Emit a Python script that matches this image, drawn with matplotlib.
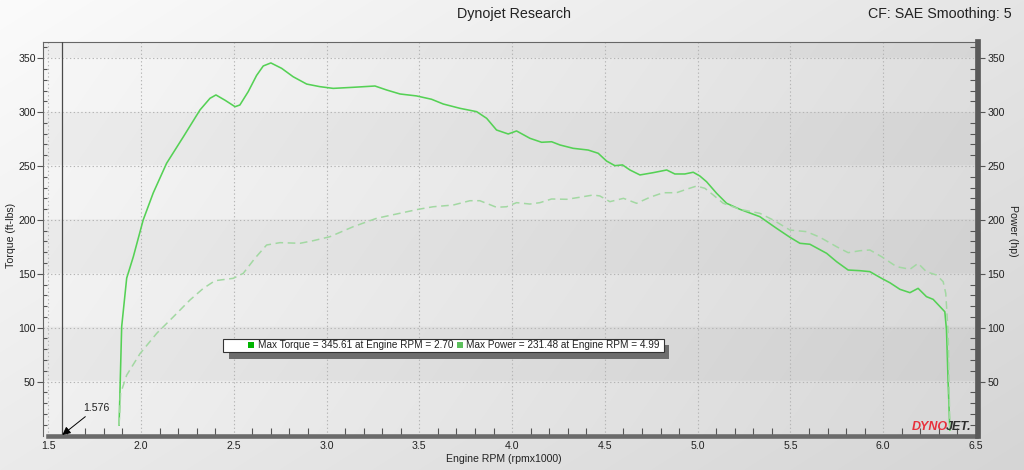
import numpy as np
import matplotlib
matplotlib.use("Agg")
import matplotlib.pyplot as plt
from matplotlib.patches import Rectangle

# ---------------- data ----------------
torque_rpm = [1.882, 1.896, 1.923, 1.959, 2.012, 2.066, 2.138, 2.228, 2.318, 2.372,
              2.404, 2.453, 2.507, 2.533, 2.578, 2.623, 2.659, 2.70, 2.758, 2.82,
              2.893, 2.964, 3.036, 3.144, 3.261, 3.324, 3.396, 3.485, 3.566, 3.629,
              3.719, 3.809, 3.863, 3.916, 3.979, 4.024, 4.096, 4.159, 4.213, 4.258,
              4.329, 4.41, 4.464, 4.509, 4.554, 4.595, 4.635, 4.689, 4.76, 4.833,
              4.877, 4.931, 4.976, 5.012, 5.048, 5.102, 5.156, 5.228, 5.335, 5.425,
              5.497, 5.551, 5.605, 5.695, 5.749, 5.811, 5.874, 5.928, 5.991, 6.036,
              6.09, 6.144, 6.188, 6.233, 6.269, 6.332, 6.341, 6.35, 6.359]
torque = [9.7, 101, 146, 166, 200, 225, 252.5, 277, 302, 312.8,
          315.9, 311, 305, 306.6, 319, 334, 342.8, 345.6, 340.6, 332.8,
          326, 323.6, 322, 323, 324.2, 320.5, 316.8, 315, 311.9, 307.5,
          303.5, 300.4, 294.2, 283.4, 279.7, 282.5, 275.7, 272, 272.5, 269.5,
          266.4, 264.8, 261.8, 254.6, 250.3, 251, 246.3, 241.7, 243.8, 246.3,
          242.6, 242.6, 244.2, 240.7, 235.4, 224.7, 215.4, 209.8, 203, 192.2,
          183.9, 178.3, 177.4, 169, 161.2, 153.5, 152.9, 152, 145.8, 141.7,
          135.6, 132.5, 136.5, 128.8, 126.3, 114.8, 97.9, 48.4, 5]

power_rpm = [1.882, 1.89, 1.923, 1.995, 2.085, 2.174, 2.264, 2.336, 2.399, 2.497,
             2.551, 2.614, 2.677, 2.749, 2.857, 2.928, 3.018, 3.144, 3.27, 3.378,
             3.494, 3.575, 3.683, 3.773, 3.826, 3.916, 3.97, 4.024, 4.096, 4.15,
             4.213, 4.294, 4.365, 4.437, 4.473, 4.527, 4.6, 4.671, 4.743, 4.814,
             4.886, 4.94, 4.994, 5.039, 5.084, 5.138, 5.228, 5.335, 5.407, 5.497,
             5.587, 5.659, 5.749, 5.811, 5.874, 5.928, 5.991, 6.072, 6.144, 6.188,
             6.233, 6.287, 6.323, 6.337, 6.35, 6.359]
power = [9.7, 39, 56, 76, 94.8, 110, 125.7, 136.5, 143.6, 145.8,
         150.4, 164.4, 176.7, 178.9, 178.3, 180.7, 184.4, 193.7, 201.5, 205.5,
         209.8, 212.2, 213.8, 217.8, 217.8, 211.7, 212.2, 216, 214.7, 216,
         219.4, 219.1, 221, 223.1, 222.2, 216.9, 220, 215.4, 221, 225.2,
         225.2, 228.4, 231.4, 229.3, 223.1, 215.4, 209.8, 206.1, 199.9, 190.6,
         189.1, 183.9, 175.1, 169.6, 171.4, 172.1, 165.9, 156.6, 154.2, 159.7,
         151.9, 148.9, 142.7, 131.9, 94.8, 5]

x_ticks = [1.5, 2.0, 2.5, 3.0, 3.5, 4.0, 4.5, 5.0, 5.5, 6.0, 6.5]
x_tick_labels = ["1.5", "2.0", "2.5", "3.0", "3.5", "4.0", "4.5", "5.0", "5.5", "6.0", "6.5"]
y_ticks = [50, 100, 150, 200, 250, 300, 350]
y_tick_labels = ["50", "100", "150", "200", "250", "300", "350"]
marker_rpm = 1.576
title = "Dynojet Research"
cf_text = "CF: SAE Smoothing: 5"
legend_torque = "Max Torque = 345.61 at Engine RPM = 2.70"
legend_power = "Max Power = 231.48 at Engine RPM = 4.99"

# ---------------- figure ----------------
W, H = 1024, 470
plt.rcParams['font.family'] = ['Liberation Sans', 'DejaVu Sans']
fig = plt.figure(figsize=(W / 100, H / 100), dpi=100)

def fx(px):
    return px / W

def fy(py):
    return 1 - py / H

# figure background gradient
gx = np.linspace(0, 1, W)[None, :]
gy = np.linspace(0, 1, H)[:, None]
bgv = (251 - 22 * gx - 16 * gy) / 255.0
bg = np.dstack([bgv, bgv, bgv])
fig.figimage(bg, 0, 0, zorder=-10, origin='upper')

XL = (1.4736, 6.5)
YL = (0, 365.3)
left, right, top, bottom = 43.3, 976.0, 41.7, 435.5
ax = fig.add_axes([fx(left), fy(bottom), (right - left) / W, (bottom - top) / H])
ax.patch.set_alpha(0)

# plot-area background: horizontal gradient + alternating bands
ny, nx = 400, 400
u = np.linspace(0, 1, nx)[None, :]
yv = np.linspace(YL[1], YL[0], ny)[:, None]
band = ((yv // 50) % 2 == 1).astype(float)
pv = (247 - 24 * u - 7 * (1 - yv / YL[1]) - 9 * band) / 255.0
pimg = np.dstack([pv, pv, pv])
ax.imshow(pimg, extent=[XL[0], XL[1], YL[0], YL[1]], aspect='auto', zorder=0,
          interpolation='bilinear')

ax.set_xlim(*XL)
ax.set_ylim(*YL)

ax.grid(True, which='major', color='#b5b5b5', linestyle=(0, (1.2, 2.2)), linewidth=0.8, zorder=1)
ax.set_axisbelow(True)

ax.plot(torque_rpm, torque, color='#55d155', lw=1.15, zorder=4, solid_joinstyle='round')

ax.axvline(marker_rpm, color='#4a4a4a', lw=0.9, zorder=3)

ax.set_xticks(x_ticks)
ax.set_xticklabels(x_tick_labels)
ax.set_xticks(np.arange(1.6, 6.45, 0.1), minor=True)
ax.set_yticks(y_ticks)
ax.set_yticklabels(y_tick_labels)
ax.set_yticks(np.arange(10, 361, 10), minor=True)

ax.tick_params(axis='x', which='major', direction='out', length=0, pad=4,
               labelsize=7.6, labelcolor='#222222')
ax.tick_params(axis='x', which='minor', direction='in', length=6, width=0.8, color='#555555')
ax.tick_params(axis='y', which='major', direction='out', length=4, width=0.8, color='#555555',
               pad=1.5, labelsize=7.6, labelcolor='#222222')
ax.tick_params(axis='y', which='minor', direction='in', length=3, width=0.8, color='#555555')

for s in ['left', 'top']:
    ax.spines[s].set_color('#666666')
    ax.spines[s].set_linewidth(0.8)
ax.spines['right'].set_visible(False)
ax.spines['bottom'].set_bounds(1.5, 6.5)
ax.spines['bottom'].set_color('#6a6a6a')
ax.spines['bottom'].set_linewidth(3.3)
ax.spines['bottom'].set_zorder(5)

# right (power) axis
ax2 = ax.twinx()
ax2.set_ylim(*YL)
ax2.set_xlim(*XL)
ax2.plot(power_rpm, power, color='#a2d8a2', lw=1.1, dashes=(5, 3), zorder=3)
for s in ['left', 'top', 'bottom']:
    ax2.spines[s].set_visible(False)
ax2.spines['right'].set_color('#5a5a5a')
ax2.spines['right'].set_linewidth(4.1)
ax2.spines['right'].set_position(('outward', 1.5))
ax2.set_yticks(y_ticks)
ax2.set_yticklabels(y_tick_labels)
ax2.set_yticks(np.arange(10, 361, 10), minor=True)
ax2.tick_params(axis='y', which='major', direction='out', length=5, width=0.8, color='#555555',
                pad=1.5, labelsize=7.6, labelcolor='#222222')
ax2.tick_params(axis='y', which='minor', direction='in', length=5.8, width=0.8, color='#555555')

# annotation of the marker
ax.annotate("1.576", xy=(marker_rpm, 0.5), xytext=(1.6875, 25.5), fontsize=7.6, color='#222222',
            ha='left', va='center', zorder=6,
            arrowprops=dict(arrowstyle='-|>', color='black', lw=0.7, mutation_scale=12,
                            shrinkA=1, shrinkB=0))

# texts
fig.text(fx(514), fy(14), title, ha='center', va='center', fontsize=10.3, color='#222222')
fig.text(fx(1012), fy(14), cf_text, ha='right', va='center', fontsize=10.3, color='#222222')
fig.text(fx(504), fy(459), "Engine RPM (rpmx1000)", ha='center', va='center', fontsize=7.6,
         color='#222222')
fig.text(fx(11), fy(235), "Torque (ft-lbs)", ha='center', va='center', rotation=90,
         fontsize=7.6, color='#222222')
fig.text(fx(1013), fy(231), "Power (hp)", ha='center', va='center', rotation=-90,
         fontsize=7.6, color='#222222')

# legend box with shadow
shadow = Rectangle((fx(229), fy(359)), fx(669) - fx(229), fy(345) - fy(359),
                   transform=fig.transFigure, facecolor='#6d6d6d', edgecolor='none', zorder=20)
box = Rectangle((fx(223), fy(352)), fx(664) - fx(223), fy(339) - fy(352),
                transform=fig.transFigure, facecolor='white', edgecolor='#333333', lw=0.8, zorder=21)
fig.add_artist(shadow)
fig.add_artist(box)
sq1 = Rectangle((fx(248), fy(347.5)), 5.5 / W, 5.5 / H, transform=fig.transFigure,
                facecolor='#00b400', edgecolor='none', zorder=22)
sq2 = Rectangle((fx(457), fy(347.5)), 5.5 / W, 5.5 / H, transform=fig.transFigure,
                facecolor='#5cc05c', edgecolor='none', zorder=22)
fig.add_artist(sq1)
fig.add_artist(sq2)
fig.text(fx(258), fy(345.5), legend_torque, ha='left', va='center', fontsize=7.2,
         color='#222222', zorder=23)
fig.text(fx(466), fy(345.5), legend_power, ha='left', va='center', fontsize=7.2,
         color='#222222', zorder=23)

# DYNOJET logo
fig.text(fx(912), fy(427), "DYNO", ha='left', va='center', fontsize=9, fontweight='heavy',
         style='italic', color='#e8313c', zorder=23)
fig.text(fx(946), fy(427), "JET.", ha='left', va='center', fontsize=9, fontweight='heavy',
         style='italic', color='#2e2e2e', zorder=23)

fig.savefig("out.png", dpi=100)
